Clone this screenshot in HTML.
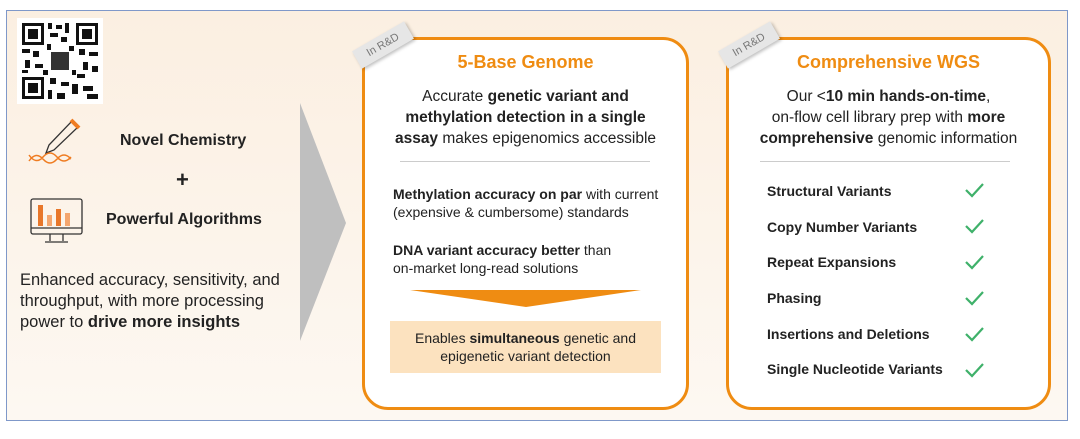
<!DOCTYPE html>
<html><head><meta charset="utf-8"><style>
*{margin:0;padding:0;box-sizing:border-box}
body{width:1080px;height:439px;background:#fff;font-family:"Liberation Sans",Arial,sans-serif;color:#222;position:relative;overflow:hidden}
.frame{position:absolute;left:6px;top:10px;width:1062px;height:411px;border:1px solid #7f98c9;background:linear-gradient(#fbefe1,#fdf8f2)}
.abs{position:absolute}
.card{position:absolute;top:37px;height:373px;border:3px solid #ef8c12;border-radius:26px;background:#fff}
.tag{position:absolute;width:60px;height:20px;background:#e6e6e6;color:#777;font-size:11px;text-align:center;line-height:20px;transform:rotate(-30deg);box-shadow:1px 2px 3px rgba(0,0,0,.25)}
.title{position:absolute;left:0;right:0;text-align:center;color:#ef8c12;font-weight:bold;font-size:18px}
.sub{position:absolute;left:0;right:0;text-align:center;font-size:15.5px;line-height:21px;color:#222}
.hr{position:absolute;height:1px;background:#ccc}
.pt{position:absolute;font-size:14px;line-height:18px}
.row{position:absolute;left:767px;font-size:14px;font-weight:bold}
</style></head><body>
<div class="frame"></div>
<svg class="abs" style="left:17px;top:18px" width="86" height="86" viewBox="0 0 86 86">
<rect width="86" height="86" fill="#fff"/>
<g fill="#111">
<rect x="5" y="5" width="22" height="22"/><rect x="59" y="5" width="22" height="22"/><rect x="5" y="59" width="22" height="22"/>
</g>
<g fill="#fff"><rect x="8" y="8" width="16" height="16"/><rect x="62" y="8" width="16" height="16"/><rect x="8" y="62" width="16" height="16"/></g>
<g fill="#111"><rect x="11" y="11" width="10" height="10"/><rect x="65" y="11" width="10" height="10"/><rect x="11" y="65" width="10" height="10"/>
<rect x="31" y="5" width="4" height="6"/><rect x="39" y="7" width="6" height="4"/><rect x="48" y="5" width="4" height="10"/><rect x="33" y="15" width="8" height="4"/><rect x="44" y="19" width="6" height="5"/>
<rect x="5" y="31" width="8" height="4"/><rect x="16" y="33" width="6" height="6"/><rect x="8" y="42" width="5" height="8"/><rect x="18" y="46" width="8" height="4"/><rect x="5" y="52" width="6" height="3"/>
<rect x="62" y="31" width="6" height="6"/><rect x="72" y="34" width="9" height="4"/><rect x="66" y="44" width="5" height="8"/><rect x="75" y="48" width="6" height="6"/><rect x="60" y="56" width="8" height="4"/>
<rect x="33" y="60" width="6" height="6"/><rect x="44" y="64" width="8" height="4"/><rect x="31" y="72" width="4" height="9"/><rect x="40" y="75" width="8" height="6"/><rect x="55" y="66" width="6" height="10"/><rect x="66" y="68" width="10" height="5"/><rect x="70" y="76" width="11" height="5"/>
<rect x="30" y="26" width="4" height="6"/><rect x="52" y="28" width="5" height="5"/><rect x="26" y="52" width="5" height="5"/><rect x="55" y="52" width="4" height="5"/></g>
<rect x="34" y="34" width="18" height="18" fill="#333"/>
</svg>
<svg class="abs" style="left:26px;top:115px" width="60" height="55" viewBox="0 0 60 55">
<path d="M46 6 L52 12 L28 35 L20 38 L23 30 Z" fill="none" stroke="#333" stroke-width="1.3"/>
<path d="M45 5 L53 13" stroke="#ef7c22" stroke-width="4"/>
<path d="M3 40 Q10 50 17 42 T31 42 T45 42 M3 46 Q10 36 17 44 T31 44 T45 44" fill="none" stroke="#ef7c22" stroke-width="1.5"/>
</svg>
<div class="abs" style="left:120px;top:132px;font-size:16px;font-weight:bold">Novel Chemistry</div>
<div class="abs" style="left:176px;top:167px;font-size:22px;font-weight:bold">+</div>
<svg class="abs" style="left:30px;top:197px" width="55" height="50" viewBox="0 0 55 50">
<rect x="1" y="2" width="51" height="35" rx="2" fill="none" stroke="#333" stroke-width="1.3"/>
<line x1="1" y1="31" x2="52" y2="31" stroke="#333" stroke-width="1.2"/>
<rect x="8" y="8" width="5" height="21" fill="#e8772a"/><rect x="17" y="18" width="5" height="11" fill="#f4a66e"/><rect x="26" y="12" width="5" height="17" fill="#e8772a"/><rect x="35" y="16" width="5" height="13" fill="#f4a66e"/>
<path d="M20 37 L20 44 M33 37 L33 44 M15 45 L38 45" stroke="#333" stroke-width="1.3"/>
</svg>
<div class="abs" style="left:106px;top:211px;font-size:16px;font-weight:bold">Powerful Algorithms</div>
<div class="abs" style="left:20px;top:270px;font-size:16.5px;line-height:21px;color:#222">Enhanced accuracy, sensitivity, and<br>throughput, with more processing<br>power to <b>drive more insights</b></div>
<svg class="abs" style="left:300px;top:103px" width="48" height="240"><polygon points="0,0 46,120 0,238" fill="#bfbfbf"/></svg>

<div class="card" style="left:362px;width:327px"></div>
<div class="tag" style="left:353px;top:35px">In R&amp;D</div>
<div class="abs" style="left:362px;width:327px;top:0;height:439px">
<div class="title" style="top:52px">5-Base Genome</div>
<div class="sub" style="top:86px">Accurate <b>genetic variant and<br>methylation detection in a single<br>assay</b> makes epigenomics accessible</div>
</div>
<div class="hr" style="left:400px;width:250px;top:161px"></div>
<div class="pt" style="left:393px;top:185px"><b>Methylation accuracy on par</b> with current<br>(expensive &amp; cumbersome) standards</div>
<div class="pt" style="left:393px;top:241px"><b>DNA variant accuracy better</b> than<br>on-market long-read solutions</div>
<svg class="abs" style="left:410px;top:290px" width="232" height="18"><polygon points="0,0 231,0 116,17" fill="#ef8c12"/></svg>
<div class="abs" style="left:390px;top:321px;width:271px;height:52px;background:#fce2bf;text-align:center;font-size:14px;line-height:18px;padding-top:8px">Enables <b>simultaneous</b> genetic and<br>epigenetic variant detection</div>

<div class="card" style="left:726px;width:325px"></div>
<div class="tag" style="left:719px;top:35px">In R&amp;D</div>
<div class="abs" style="left:726px;width:325px;top:0;height:439px">
<div class="title" style="top:52px">Comprehensive WGS</div>
<div class="sub" style="top:86px">Our &lt;<b>10 min hands-on-time</b>,<br>on-flow cell library prep with <b>more<br>comprehensive</b> genomic information</div>
</div>
<div class="hr" style="left:760px;width:250px;top:161px"></div>
<div class="row" style="top:183px">Structural Variants</div>
<div class="row" style="top:219px">Copy Number Variants</div>
<div class="row" style="top:254px">Repeat Expansions</div>
<div class="row" style="top:290px">Phasing</div>
<div class="row" style="top:326px">Insertions and Deletions</div>
<div class="row" style="top:361px">Single Nucleotide Variants</div>
<svg class="abs" style="left:962px;top:180px" width="28" height="200">
<g fill="none" stroke="#3fb16a" stroke-width="2.2">
<path d="M4 10 L10 16 L21 4"/><path d="M4 46 L10 52 L21 40"/><path d="M4 82 L10 88 L21 76"/><path d="M4 118 L10 124 L21 112"/><path d="M4 154 L10 160 L21 148"/><path d="M4 190 L10 196 L21 184"/>
</g></svg>
</body></html>
